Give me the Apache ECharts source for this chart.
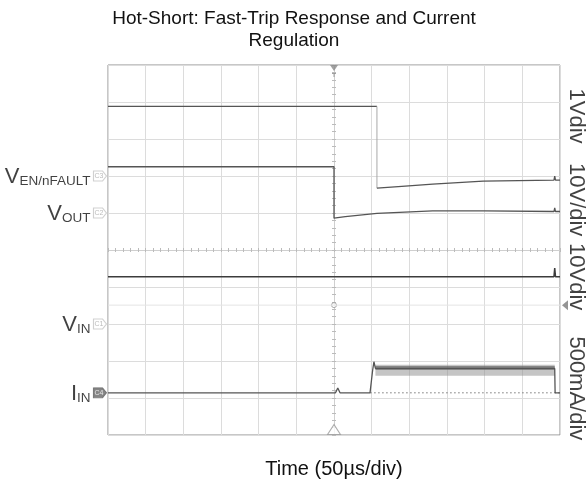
<!DOCTYPE html>
<html><head><meta charset="utf-8">
<script src="https://cdn.jsdelivr.net/npm/echarts@6/dist/echarts.min.js"></script>
<style>html,body{margin:0;padding:0;background:#fff}#c{width:588px;height:489px}</style>
</head><body><div id="c"></div>
<script>
// ---- text ----
const titleText = 'Hot-Short: Fast-Trip Response and Current\nRegulation';
const xAxisName = 'Time (50µs/div)';

// ---- scales: time in µs (50 µs/div), vertical in screen divisions ----
const xMin = -300, xMax = 300, xStep = 50;
const yMin = -5, yMax = 5, yStep = 1;

// ---- traces (time µs, level in divisions) ----
const enHighT = [-300, 57];
const enHighV = [3.88, 3.88];
const enLowT = [57, 90, 131, 198, 292, 293, 294, 300];
const enLowV = [1.67, 1.72, 1.78, 1.86, 1.89, 2.0, 1.89, 1.89];

const voutT = [-300, 0, 0, 15, 57, 131, 200, 292, 293, 294, 300];
const voutV = [2.25, 2.25, 0.86, 0.90, 0.99, 1.06, 1.06, 1.04, 1.14, 1.04, 1.04];

const vinT = [-300, 292, 293, 294, 300];
const vinV = [-0.72, -0.72, -0.49, -0.72, -0.72];

const iinT = [-300, 2, 5, 8, 47.8, 51.3, 53, 55, 293, 293.5, 300];
const iinV = [-3.86, -3.86, -3.73, -3.86, -3.86, -3.25, -3.02, -3.2, -3.2, -3.86, -3.86];
const iinBandT = [55, 100, 150, 200, 250, 293];
const iinBandV = [-3.25, -3.25, -3.25, -3.25, -3.25, -3.25];
const iinZeroT = [48, 300];
const iinZeroV = -3.86;

const trigLevel = -1.49;
const trigTime = 0;

// ---- channel tags ----
const tagNames = ['C3', 'C2', 'C1', 'C4'];
const tagLevels = [2.0, 1.0, -2.0, -3.86];
const tagMain = ['V', 'V', 'V', 'I'];
const tagSub = ['EN/nFAULT', 'OUT', 'IN', 'IN'];

// ---- right-side scale labels ----
const scaleLabels = ['1Vdiv', '10V/div', '10Vdiv', '500mA/div'];
const scaleLevels = [3.62, 1.36, -0.72, -3.74];

const zip = (t, v) => t.map((x, i) => [x, Array.isArray(v) ? v[i] : v]);
const FONT = 'Liberation Sans, Arial, sans-serif';
const traceColor = '#555';

const chart = echarts.init(document.getElementById('c'), null, {renderer: 'canvas'});

const centerAxisX = (pos) => ({
  type: 'value', min: xMin, max: xMax, interval: xStep, position: pos,
  axisLine: {show: true, onZero: true, onZeroAxisIndex: 0, lineStyle: {color: '#cfcfcf', width: 1}},
  axisTick: {show: true, length: 2, lineStyle: {color: '#bbb'}},
  minorTick: {show: true, splitNumber: 5, length: 2, lineStyle: {color: '#bbb'}},
  axisLabel: {show: false}, splitLine: {show: false}
});
const centerAxisY = (pos) => ({
  type: 'value', min: yMin, max: yMax, interval: yStep, position: pos,
  axisLine: {show: true, onZero: true, onZeroAxisIndex: 0, lineStyle: {color: '#cfcfcf', width: 1}},
  axisTick: {show: true, length: 2, lineStyle: {color: '#bbb'}},
  minorTick: {show: true, splitNumber: 5, length: 2, lineStyle: {color: '#bbb'}},
  axisLabel: {show: false}, splitLine: {show: false}
});

const lineS = (name, data, color, width, extra) => Object.assign({
  name, type: 'line', data, xAxisIndex: 0, yAxisIndex: 0, symbol: 'none',
  lineStyle: {color, width}, silent: true, animation: false
}, extra || {});

const option = {
  animation: false,
  backgroundColor: '#fff',
  title: {
    text: titleText, left: 'center', top: 3,
    textStyle: {fontFamily: FONT, fontSize: 19, fontWeight: 'normal', color: '#111', lineHeight: 22}
  },
  grid: {left: 108, right: 28, top: 65, bottom: 54, show: true, borderColor: '#8f8f8f', borderWidth: 1, backgroundColor: 'transparent'},
  xAxis: [
    {
      type: 'value', min: xMin, max: xMax, interval: xStep, position: 'bottom',
      axisLine: {show: false}, axisTick: {show: false}, axisLabel: {show: false},
      splitLine: {show: true, lineStyle: {color: '#dcdcdc', width: 1}},
      name: xAxisName, nameLocation: 'middle', nameGap: 24,
      nameTextStyle: {fontFamily: FONT, fontSize: 20, color: '#111'}
    },
    centerAxisX('bottom'),
    centerAxisX('top')
  ],
  yAxis: [
    {
      type: 'value', min: yMin, max: yMax, interval: yStep, position: 'left',
      axisLine: {show: false}, axisTick: {show: false}, axisLabel: {show: false},
      splitLine: {show: true, lineStyle: {color: '#dcdcdc', width: 1}}
    },
    centerAxisY('left'),
    centerAxisY('right')
  ],
  series: [
    lineS('trigLevelLine', [[xMin, trigLevel], [xMax, trigLevel]], '#e4e4e4', 1),
    lineS('iinZero', iinZeroT.map(t => [t, iinZeroV]), '#777', 1, {lineStyle: {color: '#777', width: 1, type: [1.5, 2.5]}}),
    lineS('enHigh', zip(enHighT, enHighV), traceColor, 1.3),
    lineS('enEdge', [[enHighT[enHighT.length - 1], enHighV[enHighV.length - 1]], [enLowT[0], enLowV[0]]], '#a8a8a8', 1),
    lineS('enLow', zip(enLowT, enLowV), traceColor, 1.3),
    lineS('vout', zip(voutT, voutV), traceColor, 1.3),
    lineS('vin', zip(vinT, vinV), '#3c3c3c', 1.5),
    lineS('iinBand', zip(iinBandT, iinBandV), 'rgba(140,140,140,0.5)', 11),
    lineS('iinBandCore', zip(iinBandT, iinBandV.map(v => v + 0.06)), 'rgba(100,100,100,0.65)', 4),
    lineS('iin', zip(iinT, iinV), traceColor, 1.3),
    {
      name: 'markers', type: 'scatter', xAxisIndex: 0, yAxisIndex: 0, clip: false, silent: true,
      data: [
        {value: [trigTime, yMax], symbol: 'path://M0,0 L8,0 L4,6 Z M2,8 L6,8 L6,9 L2,9 Z M3.5,9 L4.5,9 L4.5,12 L3.5,12 Z',
          symbolSize: [8, 12], symbolOffset: [0, 6], itemStyle: {color: '#8a8a8a'}},
        {value: [trigTime, yMin], symbol: 'triangle', symbolSize: [13, 10], symbolOffset: [0, -5.5],
          itemStyle: {color: '#fff', borderColor: '#999', borderWidth: 1}},
        {value: [trigTime, trigLevel], symbol: 'circle', symbolSize: 5,
          itemStyle: {color: '#fff', borderColor: '#999', borderWidth: 1}},
        {value: [xMax, trigLevel], symbol: 'path://M6,0 L6,10 L0,5 Z', symbolSize: [6, 10], symbolOffset: [5, 0],
          itemStyle: {color: '#7a7a7a'}}
      ]
    },
    {
      name: 'tags', type: 'scatter', xAxisIndex: 0, yAxisIndex: 0, clip: false, silent: true,
      symbol: 'path://M0,0 L9,0 L13,5 L9,10 L0,10 Z', symbolSize: [13, 10], symbolOffset: [-8, 0],
      data: tagNames.map((n, i) => ({
        name: n, value: [xMin, tagLevels[i]],
        itemStyle: n === 'C4' ? {color: '#666', borderColor: '#666', borderWidth: 1} : {color: '#fff', borderColor: '#c4c4c4', borderWidth: 1},
        label: {color: n === 'C4' ? '#fff' : '#aaa'}
      })),
      label: {show: true, position: 'inside', formatter: p => p.name, fontSize: 7, fontFamily: FONT, offset: [-1, 0]}
    },
    {
      name: 'tagNames', type: 'scatter', xAxisIndex: 0, yAxisIndex: 0, clip: false, silent: true,
      symbol: 'rect', symbolSize: [13, 10], symbolOffset: [-8, 0], itemStyle: {color: 'rgba(0,0,0,0)'},
      data: tagNames.map((n, i) => ({value: [xMin, tagLevels[i]], name: tagMain[i] + '|' + tagSub[i]})),
      label: {
        show: true, position: 'left', distance: 3,
        formatter: p => '{v|' + p.name.split('|')[0] + '}{s|' + p.name.split('|')[1] + '}',
        rich: {
          v: {fontFamily: FONT, fontSize: 22, color: '#111', lineHeight: 24, verticalAlign: 'bottom'},
          s: {fontFamily: FONT, fontSize: 13.5, color: '#111', lineHeight: 13, verticalAlign: 'bottom'}
        }
      }
    },
    {
      name: 'scaleLabels', type: 'scatter', xAxisIndex: 0, yAxisIndex: 0, clip: false, silent: true,
      symbolSize: 1, itemStyle: {color: 'rgba(0,0,0,0)'},
      data: scaleLabels.map((s, i) => ({value: [xMax, scaleLevels[i]], name: s})),
      label: {show: true, position: 'inside', offset: [0, -16], rotate: -90, formatter: p => p.name,
        fontFamily: FONT, fontSize: 22, color: '#111', align: 'center', verticalAlign: 'middle'}
    }
  ]
};
chart.setOption(option);
</script></body></html>
